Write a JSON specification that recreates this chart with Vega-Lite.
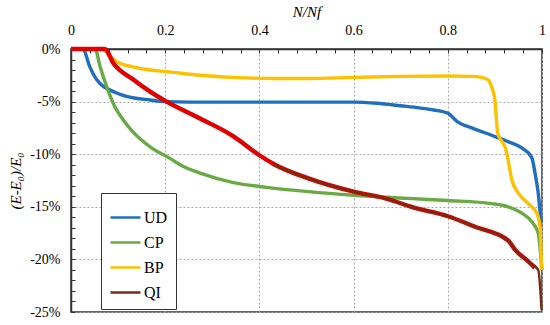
{
  "$schema": "https://vega.github.io/schema/vega-lite/v6.json",
  "autosize": {"type": "none"},
  "width": 471,
  "height": 263,
  "padding": {"left": 71, "top": 49, "right": 8, "bottom": 13},
  "background": "white",
  "config": {
    "font": "Liberation Serif",
    "style": {
      "guide-label": {"font": "Liberation Serif", "fontWeight": "normal"},
      "guide-title": {"font": "Liberation Serif", "fontWeight": "normal"}
    },
    "view": {"stroke": "#333", "strokeWidth": 1.5},
    "axis": {
      "labelFont": "Liberation Serif",
      "labelFontSize": 14,
      "labelColor": "black",
      "titleFont": "Liberation Serif",
      "titleFontSize": 15,
      "titleFontStyle": "italic",
      "titleFontWeight": "normal",
      "titleColor": "black",
      "domainColor": "#333",
      "domainWidth": 1.5,
      "tickColor": "#333",
      "tickSize": -4,
      "tickWidth": 1,
      "gridColor": "#aaaaaa",
      "gridDash": [2, 2],
      "gridWidth": 1,
      "labelOverlap": false,
      "labelFlush": false
    },
    "legend": {
      "labelFont": "Liberation Serif"
    }
  },
  "data": {
    "values": [
      {"s": "UD", "x": 0, "y": 0}, {"s": "UD", "x": 0.025, "y": 0}, {"s": "UD", "x": 0.04, "y": -1.7}, {"s": "UD", "x": 0.05, "y": -2.6}, {"s": "UD", "x": 0.062, "y": -3.3}, {"s": "UD", "x": 0.083, "y": -3.9}, {"s": "UD", "x": 0.118, "y": -4.5}, {"s": "UD", "x": 0.168, "y": -4.85}, {"s": "UD", "x": 0.2, "y": -5.0}, {"s": "UD", "x": 0.3, "y": -5.05}, {"s": "UD", "x": 0.4, "y": -5.05}, {"s": "UD", "x": 0.5, "y": -5.05}, {"s": "UD", "x": 0.6, "y": -5.05}, {"s": "UD", "x": 0.65, "y": -5.16}, {"s": "UD", "x": 0.7, "y": -5.4}, {"s": "UD", "x": 0.74, "y": -5.6}, {"s": "UD", "x": 0.77, "y": -5.8}, {"s": "UD", "x": 0.8, "y": -6.1}, {"s": "UD", "x": 0.82, "y": -6.9}, {"s": "UD", "x": 0.851, "y": -7.5}, {"s": "UD", "x": 0.893, "y": -8.2}, {"s": "UD", "x": 0.928, "y": -8.8}, {"s": "UD", "x": 0.957, "y": -9.4}, {"s": "UD", "x": 0.978, "y": -10.3}, {"s": "UD", "x": 0.986, "y": -12}, {"s": "UD", "x": 0.992, "y": -13.7}, {"s": "UD", "x": 0.996, "y": -15.5}, {"s": "UD", "x": 0.999, "y": -16.5},
      {"s": "CP", "x": 0, "y": 0}, {"s": "CP", "x": 0.051, "y": 0}, {"s": "CP", "x": 0.062, "y": -1.7}, {"s": "CP", "x": 0.076, "y": -3.6}, {"s": "CP", "x": 0.09, "y": -5.2}, {"s": "CP", "x": 0.111, "y": -6.75}, {"s": "CP", "x": 0.132, "y": -7.9}, {"s": "CP", "x": 0.168, "y": -9.3}, {"s": "CP", "x": 0.21, "y": -10.4}, {"s": "CP", "x": 0.24, "y": -11.2}, {"s": "CP", "x": 0.274, "y": -11.8}, {"s": "CP", "x": 0.345, "y": -12.7}, {"s": "CP", "x": 0.415, "y": -13.15}, {"s": "CP", "x": 0.504, "y": -13.56}, {"s": "CP", "x": 0.6, "y": -13.9}, {"s": "CP", "x": 0.716, "y": -14.2}, {"s": "CP", "x": 0.8, "y": -14.4}, {"s": "CP", "x": 0.893, "y": -14.7}, {"s": "CP", "x": 0.928, "y": -15.0}, {"s": "CP", "x": 0.957, "y": -15.6}, {"s": "CP", "x": 0.978, "y": -16.4}, {"s": "CP", "x": 0.992, "y": -17.5}, {"s": "CP", "x": 0.998, "y": -20}, {"s": "CP", "x": 1.0, "y": -21},
      {"s": "BP", "x": 0, "y": 0}, {"s": "BP", "x": 0.068, "y": 0}, {"s": "BP", "x": 0.08, "y": -0.6}, {"s": "BP", "x": 0.097, "y": -1.2}, {"s": "BP", "x": 0.132, "y": -1.7}, {"s": "BP", "x": 0.168, "y": -2.0}, {"s": "BP", "x": 0.203, "y": -2.15}, {"s": "BP", "x": 0.274, "y": -2.5}, {"s": "BP", "x": 0.345, "y": -2.7}, {"s": "BP", "x": 0.43, "y": -2.8}, {"s": "BP", "x": 0.5, "y": -2.8}, {"s": "BP", "x": 0.6, "y": -2.7}, {"s": "BP", "x": 0.7, "y": -2.6}, {"s": "BP", "x": 0.8, "y": -2.57}, {"s": "BP", "x": 0.85, "y": -2.6}, {"s": "BP", "x": 0.872, "y": -2.7}, {"s": "BP", "x": 0.886, "y": -2.95}, {"s": "BP", "x": 0.893, "y": -3.6}, {"s": "BP", "x": 0.9, "y": -4.85}, {"s": "BP", "x": 0.906, "y": -8.0}, {"s": "BP", "x": 0.915, "y": -8.8}, {"s": "BP", "x": 0.923, "y": -9.5}, {"s": "BP", "x": 0.928, "y": -10.55}, {"s": "BP", "x": 0.936, "y": -12.45}, {"s": "BP", "x": 0.95, "y": -13.7}, {"s": "BP", "x": 0.971, "y": -14.7}, {"s": "BP", "x": 0.989, "y": -15.6}, {"s": "BP", "x": 0.996, "y": -16.9}, {"s": "BP", "x": 0.999, "y": -20.7}, {"s": "BP", "x": 1.0, "y": -21.0},
      {"s": "QIr", "x": 0, "y": 0}, {"s": "QIr", "x": 0.072, "y": 0}, {"s": "QIr", "x": 0.09, "y": -1.36}, {"s": "QIr", "x": 0.132, "y": -2.9}, {"s": "QIr", "x": 0.168, "y": -4.05}, {"s": "QIr", "x": 0.203, "y": -5.0}, {"s": "QIr", "x": 0.274, "y": -6.6}, {"s": "QIr", "x": 0.345, "y": -8.3}, {"s": "QIr", "x": 0.4, "y": -10.1}, {"s": "QIr", "x": 0.433, "y": -11.0}, {"s": "QIr", "x": 0.504, "y": -12.3}, {"s": "QIr", "x": 0.6, "y": -13.56}, {"s": "QIr", "x": 0.667, "y": -14.2}, {"s": "QIr", "x": 0.73, "y": -15.1}, {"s": "QIr", "x": 0.8, "y": -15.9}, {"s": "QIr", "x": 0.858, "y": -16.9}, {"s": "QIr", "x": 0.928, "y": -18.2}, {"s": "QIr", "x": 0.943, "y": -19.1}, {"s": "QIr", "x": 0.971, "y": -20.2}, {"s": "QIr", "x": 0.985, "y": -20.8},
      {"s": "QI", "x": 0.43, "y": -11.0}, {"s": "QI", "x": 0.504, "y": -12.3}, {"s": "QI", "x": 0.6, "y": -13.56}, {"s": "QI", "x": 0.667, "y": -14.2}, {"s": "QI", "x": 0.73, "y": -15.1}, {"s": "QI", "x": 0.8, "y": -15.9}, {"s": "QI", "x": 0.858, "y": -16.9}, {"s": "QI", "x": 0.928, "y": -18.2}, {"s": "QI", "x": 0.943, "y": -19.1}, {"s": "QI", "x": 0.971, "y": -20.2}, {"s": "QI", "x": 0.992, "y": -21.0}, {"s": "QI", "x": 0.996, "y": -22.6}, {"s": "QI", "x": 0.999, "y": -24.8}
    ]
  },
  "encoding": {
    "x": {
      "field": "x", "type": "quantitative",
      "scale": {"domain": [0, 1], "nice": false, "zero": false},
      "axis": {
        "orient": "top",
        "title": "N/Nf",
        "titleFont": "Liberation Serif",
        "labelFont": "Liberation Serif",
        "titleFontWeight": "normal",
        "titlePadding": 4,
        "labelPadding": 16,
        "values": [0, 0.04, 0.08, 0.12, 0.16, 0.2, 0.24, 0.28, 0.32, 0.36, 0.4, 0.44, 0.48, 0.52, 0.56, 0.6, 0.64, 0.68, 0.72, 0.76, 0.8, 0.84, 0.88, 0.92, 0.96, 1],
        "labelExpr": "abs(datum.value*5 - round(datum.value*5)) < 0.000001 ? datum.value + '' : ''",
        "gridOpacity": {"condition": {"test": "abs(datum.value*5 - round(datum.value*5)) < 0.000001", "value": 1}, "value": 0}
      }
    },
    "y": {
      "field": "y", "type": "quantitative",
      "scale": {"domain": [-25, 0], "nice": false, "zero": false},
      "axis": {
        "title": "(E-E₀)/E₀",
        "titleFont": "Liberation Serif",
        "labelFont": "Liberation Serif",
        "titleFontWeight": "normal",
        "titlePadding": 6,
        "labelPadding": 15,
        "values": [0, -1, -2, -3, -4, -5, -6, -7, -8, -9, -10, -11, -12, -13, -14, -15, -16, -17, -18, -19, -20, -21, -22, -23, -24, -25],
        "labelExpr": "datum.value % 5 == 0 ? datum.value + '%' : ''",
        "gridOpacity": {"condition": {"test": "datum.value % 5 == 0", "value": 1}, "value": 0}
      }
    }
  },
  "layer": [
    {
      "transform": [{"filter": "datum.s == 'UD' || datum.s == 'CP' || datum.s == 'BP'"}],
      "mark": {"type": "line", "strokeWidth": 3.4, "interpolate": "monotone"},
      "encoding": {
        "color": {
          "field": "s", "type": "nominal",
          "scale": {"domain": ["UD", "CP", "BP", "QI"], "range": ["#1f6fc0", "#6aaa45", "#ffc000", "#7a2a10"]},
          "legend": {
            "title": null,
            "orient": "none",
            "legendX": 30,
            "legendY": 144,
            "symbolType": "stroke",
            "symbolSize": 900,
            "symbolStrokeWidth": 2.5,
            "labelFontSize": 16,
            "labelColor": "black",
            "labelOffset": 2,
            "rowPadding": 0,
            "padding": 8,
            "fillColor": "white",
            "strokeColor": "#333"
          }
        },
        "detail": {"field": "s"}
      }
    },
    {
      "transform": [{"filter": "datum.s == 'QIr'"}],
      "mark": {"type": "line", "strokeWidth": 4.4, "color": "#e00000", "interpolate": "monotone"},
      "encoding": {}
    },
    {
      "transform": [{"filter": "datum.s == 'QI'"}],
      "mark": {"type": "line", "strokeWidth": 2.4, "interpolate": "monotone"},
      "encoding": {
        "color": {"field": "s", "type": "nominal"}
      }
    }
  ]
}
